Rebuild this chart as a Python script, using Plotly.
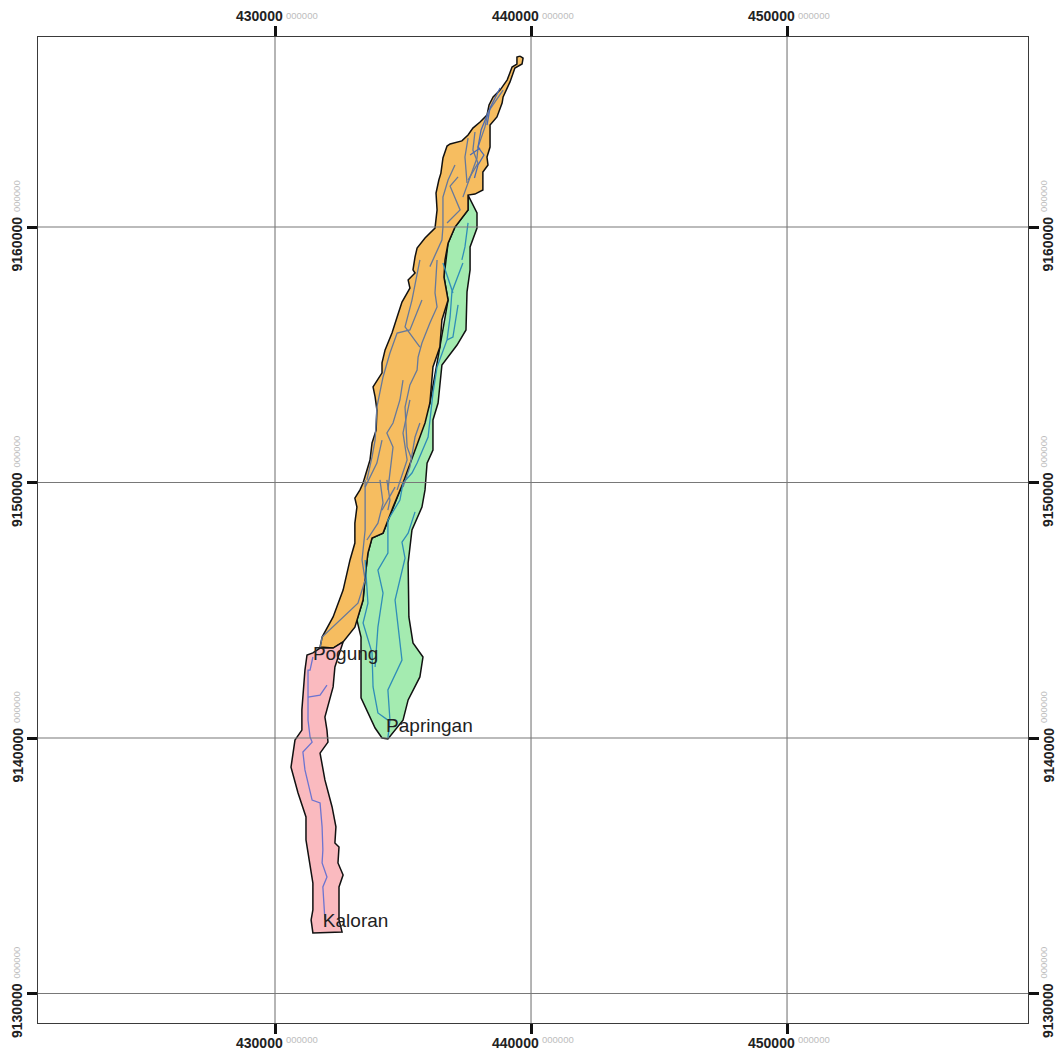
import plotly.graph_objects as go

# Catchment outlines (map metres)
pogung_e = [439570,439690,439650,439370,439180,438910,438870,438670,438400,438400,438280,438320,438120,438120,437810,437540,437540,437030,436760,436640,436600,436760,436520,436440,436170,436050,435860,435470,435000,434610,434220,433790,433630,433520,433440,433120,432660,432270,431760,431840,432270,432660,432930,433120,433120,433200,433120,433320,433440,433710,433790,433950,433980,433910,433830,434180,434180,434300,434570,434770,434960,435270,435200,435470,435390,435470,435550,435860,436250,436330,436290,436400,436480,436560,436720,436840,437300,437540,437730,438010,438280,438360,438520,438790,439070,439260,439450,439450,439570]
pogung_n = [9166690,9166610,9166380,9166220,9165680,9165090,9164850,9164310,9163990,9163130,9162740,9162430,9162150,9161450,9161290,9161250,9160670,9160000,9159370,9158710,9158040,9157140,9156360,9155300,9154520,9153110,9152330,9151270,9149980,9149040,9148020,9147830,9147240,9146300,9145400,9144340,9143760,9143520,9143560,9143950,9144740,9145790,9146970,9147630,9148410,9149040,9149390,9149710,9149980,9150880,9151550,9152050,9152840,9153350,9153740,9154290,9154680,9155190,9155850,9156480,9157060,9157610,9157930,9158200,9158320,9158830,9159180,9159570,9159960,9160670,9161330,9161840,9162110,9162700,9163170,9163250,9163370,9163600,9163870,9164110,9164380,9164780,9165090,9165360,9165760,9166260,9166380,9166650,9166690]

papringan_e = [437540,437890,437890,437620,437620,437500,437460,437110,436520,436370,436170,436170,435940,435860,435740,435350,435200,435230,435390,435780,435660,435200,435000,434410,434180,433910,433360,433360,433200,433440,433520,433630,433790,434220,435000,436050,436440,436760,436600,436760,437030,437540,437540]
papringan_n = [9161250,9160550,9159960,9159220,9158320,9157460,9155970,9155380,9154600,9153110,9152450,9151270,9150760,9149710,9149040,9148140,9146850,9144740,9143720,9143170,9142390,9141490,9140700,9139960,9140000,9140390,9141570,9143950,9144620,9145400,9146300,9147240,9147830,9148020,9149980,9153110,9155300,9157140,9158040,9159370,9160000,9160670,9161250]

kaloran_e = [432660,432340,432270,431950,432030,432070,431760,431950,432230,432380,432340,432500,432460,432660,432500,432500,432620,431950,431480,431410,431480,431480,431330,431210,431210,430900,430625,430780,431050,431050,431170,431250,431480,431760,432270,432660]
kaloran_n = [9143760,9142780,9142000,9140820,9140310,9139840,9139410,9138360,9137300,9136520,9135890,9135730,9135110,9134640,9134170,9132880,9132410,9132370,9132370,9132880,9133270,9134320,9135220,9136010,9136910,9137850,9138860,9139920,9140310,9141100,9142660,9143250,9143330,9143520,9143520,9143760]

# Streams
kaloran_rivers = [
    ([431480,431370,431290,431290,431290,431370,431450,431090,431170,431450,431760,431840,431870,431840,432030,431870,431950],
     [9143170,9142660,9142660,9141760,9140700,9140040,9139840,9139450,9138750,9137570,9137460,9136520,9135620,9135110,9134560,9134170,9132880]),
    ([431290,431760,432030],[9141600,9141680,9142070]),
]
papringan_rivers = [
    ([433520,433630,433440,433630,433790,433830,434020,434410],[9146970,9145280,9144500,9143840,9143330,9142000,9140980,9140700]),
    ([437340,436910,436840,436720,436330,436170,435980,435550,435350,435000,434880,434410,434410,434020,434220,434020,433910],
     [9158590,9157460,9156480,9155580,9154520,9153500,9151780,9150760,9150370,9149980,9149310,9148530,9147240,9146570,9145670,9144340,9142780]),
    ([435470,435200,434960,435080,434690,434880,434960,434410,434490,434410],[9148850,9148020,9147670,9147040,9145400,9143560,9143050,9141880,9140700,9140000]),
    ([436560,436950],[9158590,9157420]),
    ([437150,436950,436720],[9156950,9155690,9155580]),
    ([437540,437420,437300],[9160160,9159220,9158710]),
]
pogung_rivers = [
    ([438910,438320,438200,437930,437890,437500,437340],[9165360,9164500,9163910,9163130,9162700,9161570,9161170]),
    ([437810,437730,437930,437540],[9163720,9163010,9162500,9161840]),
    ([437540,437420,437500],[9163480,9162740,9161720]),
    ([437030,436760,436560,436560,436520,436050],[9162430,9161840,9161170,9160000,9159490,9158450]),
    ([437150,436840,437230,436720],[9161960,9161600,9160670,9160160]),
    ([436330,436250,436330,436050,435740,435590,435550,435270,435080,435160,435350],[9158710,9157420,9156870,9156240,9155460,9154910,9154400,9153820,9152950,9151390,9150880]),
    ([435660,435350,435080,435660],[9158710,9157140,9156090,9155300]),
    ([435740,435470,435270,434770,434490,434220,433980,433910,433790,433590],[9157140,9156480,9155970,9155850,9155070,9154130,9152950,9151660,9151000,9150100]),
    ([435000,434880,434610,434370,434610,434490,434410],[9154010,9153230,9152330,9151940,9151390,9150370,9149710]),
    ([435270,435000,435160,434770],[9153230,9151940,9150880,9149710]),
    ([434180,433980,433520],[9151660,9150760,9149820]),
    ([435660,435470,435270,435000],[9152330,9151780,9150610,9149820]),
    ([433520,433520,433400,433520,433240,432540,431840,431760],[9150100,9148140,9146970,9146180,9145280,9144620,9143950,9143520]),
    ([434100,434220,434020,433590],[9150100,9149200,9148410,9147750]),
    ([434370,434490,434410],[9150100,9149310,9148920]),
    ([434690,434180],[9149820,9148920]),
]
pogung_upper_rivers = [
    ([438320,438050,437930,438160,437930,437790],[9164460,9163800,9163130,9162820,9162430,9161920]),
    ([438790,438400,438280],[9165440,9164660,9163990]),
    ([437620,438010],[9162820,9163090]),
]

# Place names
place_names = ["Pogung", "Papringan", "Kaloran"]
place_e = [431480, 434340, 431870]
place_n = [9143250, 9140430, 9132800]

# Axes
x_ticks = [430000, 440000, 450000]
y_ticks = [9130000, 9140000, 9150000, 9160000]
x_range = [420743, 459412]
y_range = [9128845, 9167437]
tick_suffix = "000000"

FILL_P, FILL_G, FILL_K = "#F6BD60", "#A4EBB0", "#FABABF"
OUT = "#111111"

fig = go.Figure()
for e, n, c in [(papringan_e, papringan_n, FILL_G), (pogung_e, pogung_n, FILL_P), (kaloran_e, kaloran_n, FILL_K)]:
    fig.add_trace(go.Scatter(x=e, y=n, mode="lines", fill="toself", fillcolor=c,
                             line=dict(color=OUT, width=1.5), hoverinfo="skip", showlegend=False))

def add_rivers(rivers, colour):
    xs, ys = [], []
    for e, n in rivers:
        xs += list(e) + [None]
        ys += list(n) + [None]
    fig.add_trace(go.Scatter(x=xs, y=ys, mode="lines", line=dict(color=colour, width=1.3),
                             hoverinfo="skip", showlegend=False))

add_rivers(papringan_rivers, "#2F8DB8")
add_rivers(pogung_rivers, "#66799B")
add_rivers(pogung_upper_rivers, "#4A6AB5")
add_rivers(kaloran_rivers, "#6C74D0")

fig.add_trace(go.Scatter(x=place_e, y=place_n, mode="text", text=place_names, textposition="middle right",
                         textfont=dict(family="Liberation Sans", size=19, color="#222222"),
                         hoverinfo="skip", showlegend=False, cliponaxis=False))

for v in x_ticks:
    fig.add_shape(type="line", xref="x", yref="paper", x0=v, x1=v, y0=0, y1=1, line=dict(color="#787878", width=1.1), layer="above")
for v in y_ticks:
    fig.add_shape(type="line", xref="paper", yref="y", x0=0, x1=1, y0=v, y1=v, line=dict(color="#787878", width=1.1), layer="above")

MAIN = dict(family="Liberation Sans", size=14, color="#222222")
PALE = dict(family="Liberation Sans", size=9.5, color="#BDBDBD")
ann = []
for v in x_ticks:
    for y, ys_main, ys_pale in [(1, 21, 22), (0, -20, -16)]:
        ann.append(dict(x=v, y=y, xref="x", yref="paper", text=f"<b>{v}</b>", font=MAIN, showarrow=False,
                        xanchor="right", yanchor="middle", xshift=8, yshift=ys_main, borderpad=0, borderwidth=0))
        ann.append(dict(x=v, y=y, xref="x", yref="paper", text=tick_suffix, font=PALE, showarrow=False,
                        xanchor="left", yanchor="middle", xshift=10, yshift=ys_pale, borderpad=0))
for v in y_ticks:
    for x, xs_main, xs_pale in [(0, -21, -22), (1, 20, 15)]:
        ann.append(dict(x=x, y=v, xref="paper", yref="y", text=f"<b>{v}</b>", font=MAIN, showarrow=False, textangle=-90,
                        xanchor="center", yanchor="top", xshift=xs_main, yshift=11, borderpad=0))
        ann.append(dict(x=x, y=v, xref="paper", yref="y", text=tick_suffix, font=PALE, showarrow=False, textangle=-90,
                        xanchor="center", yanchor="bottom", xshift=xs_pale, yshift=14, borderpad=0))

axis = dict(showgrid=False, zeroline=False, showline=True, linecolor="#3A3A3A", linewidth=1.2, mirror="ticks",
            ticks="outside", ticklen=10, tickwidth=3, tickcolor="#111111", showticklabels=False)
fig.update_layout(width=1057, height=1051, autosize=False, paper_bgcolor="white", plot_bgcolor="white",
                  margin=dict(l=38, r=29, t=37, b=28), showlegend=False, annotations=ann,
                  xaxis=dict(axis, range=x_range, tickmode="array", tickvals=x_ticks),
                  yaxis=dict(axis, range=y_range, tickmode="array", tickvals=y_ticks))
fig.write_html("out.html", config=dict(displayModeBar=False),
               post_script="document.body.style.margin='0';document.body.style.overflow='hidden';")
